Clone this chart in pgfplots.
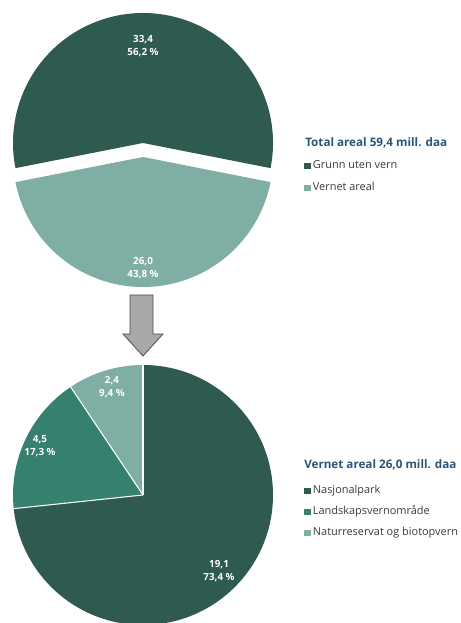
\documentclass[border=0pt]{standalone}
\usepackage{pgfplots}
\pgfplotsset{compat=1.18}
\usepackage{pgfplotstable}
\usepackage{fontspec}
\setmainfont{Open Sans}

\definecolor{grunn}{HTML}{2E5A4F}
\definecolor{landskap}{HTML}{36806F}
\definecolor{vernet}{HTML}{7FAEA4}
\definecolor{tittel}{HTML}{2B5479}
\definecolor{tekst}{HTML}{3A3A3A}
\definecolor{pil}{HTML}{A7A8AA}
\definecolor{pilkant}{HTML}{4D4D4F}

% mill. daa and share (%)
\pgfplotstableread{
value pct
33.4  56.2
26.0  43.8
}\totaltab
\pgfplotstableread{
value pct
19.1  73.4
4.5   17.3
2.4   9.4
}\verntab

\pgfplotstablegetelem{0}{value}\of\totaltab \edef\tVa{\pgfplotsretval}
\pgfplotstablegetelem{1}{value}\of\totaltab \edef\tVb{\pgfplotsretval}
\pgfplotstablegetelem{0}{pct}\of\totaltab \edef\tPa{\pgfplotsretval}
\pgfplotstablegetelem{1}{pct}\of\totaltab \edef\tPb{\pgfplotsretval}
\pgfplotstablegetelem{0}{value}\of\verntab \edef\bVa{\pgfplotsretval}
\pgfplotstablegetelem{1}{value}\of\verntab \edef\bVb{\pgfplotsretval}
\pgfplotstablegetelem{2}{value}\of\verntab \edef\bVc{\pgfplotsretval}
\pgfplotstablegetelem{0}{pct}\of\verntab \edef\bPa{\pgfplotsretval}
\pgfplotstablegetelem{1}{pct}\of\verntab \edef\bPb{\pgfplotsretval}
\pgfplotstablegetelem{2}{pct}\of\verntab \edef\bPc{\pgfplotsretval}

% angles
\pgfmathsetmacro\tAa{3.6*\tPa}
\pgfmathsetmacro\tAb{3.6*\tPb}
\pgfmathsetmacro\bSum{\bPa+\bPb+\bPc}
\pgfmathsetmacro\bAa{90-360/\bSum*\bPa}
\pgfmathsetmacro\bAb{\bAa-360/\bSum*\bPb}
\pgfmathsetmacro\tTot{\tVa+\tVb}
\pgfmathsetmacro\bTot{\bVa+\bVb+\bVc}

\newcommand\num[1]{\pgfmathprintnumber[fixed,fixed zerofill,precision=1,use comma,assume math mode=true]{#1}}
% color, cx, cy, from, to
\newcommand\slice[5]{\fill[#1] (axis cs:#2,#3) -- ++(#4:97.5pt) arc[start angle=#4,end angle=#5,radius=97.5pt] -- cycle;}
\newcommand\cut[3]{\draw[white, line width=0.8pt] (axis cs:#1,#2) -- ++(#3:97.5pt);}

\tikzset{
  lbl/.style={text=white, align=center, inner sep=0pt,
    font=\bfseries\fontsize{7.4}{9.75}\selectfont},
  ttl/.style={anchor=west, inner sep=0pt, text=tittel,
    font=\bfseries\fontsize{8.75}{10}\selectfont},
}

\begin{document}
\begin{tikzpicture}
\pgfplotsset{
  piebase/.style={hide axis, scale only axis, x=0.75pt, y=0.75pt,
    xmin=0, xmax=460, ymin=0, ymax=623, clip=false,
    legend cell align=left,
    legend image code/.code={\fill[##1, draw=none] (0pt,-2.6pt) rectangle (5.2pt,2.6pt);},
  },
  leg/.style={draw=none, fill=none, inner sep=0pt, outer sep=0pt,
    anchor=north west, font=\fontsize{8.2}{9.8}\selectfont, text=tekst,
    nodes={inner xsep=1.5pt, inner ysep=0pt, text height=6.2pt, text depth=1.8pt}},
}
% total area
\begin{axis}[piebase,
  legend style={leg, at={(0.6609,0.7421)}, row sep=8.5pt}]
\addlegendimage{fill=grunn}\addlegendentry{Grunn uten vern}
\addlegendimage{fill=vernet}\addlegendentry{Vernet areal}
\slice{grunn}{143}{480}{90-\tAa/2}{90+\tAa/2}
\slice{vernet}{143}{466}{270-\tAb/2}{270+\tAb/2}
\node[lbl] at (axis cs:143,577) {\num{\tVa}\\\num{\tPa}~\%};
\node[lbl] at (axis cs:143,355) {\num{\tVb}\\\num{\tPb}~\%};
\node[ttl] at (axis cs:305,480) {Total areal \num{\tTot} mill. daa};
\filldraw[fill=pil, draw=pilkant, line width=0.6pt, line join=miter]
  (axis cs:130,328) -- (axis cs:153,328) -- (axis cs:153,289) -- (axis cs:163,289)
  -- (axis cs:143,267) -- (axis cs:123,289) -- (axis cs:130,289) -- cycle;
\end{axis}
% protected area
\begin{axis}[piebase,
  legend style={leg, at={(0.6609,0.2204)}, row sep=7.75pt}]
\addlegendimage{fill=grunn}\addlegendentry{Nasjonalpark}
\addlegendimage{fill=landskap}\addlegendentry{Landskapsvernomr\aa de}
\addlegendimage{fill=vernet}\addlegendentry{Naturreservat og biotopvern}
\slice{grunn}{143}{128}{90}{\bAa}
\slice{landskap}{143}{128}{\bAa}{\bAb}
\slice{vernet}{143}{128}{\bAb}{-270}
\cut{143}{128}{90}
\cut{143}{128}{\bAa}
\cut{143}{128}{\bAb}
\node[lbl] at (axis cs:219,52) {\num{\bVa}\\\num{\bPa}~\%};
\node[lbl] at (axis cs:40,177) {\num{\bVb}\\\num{\bPb}~\%};
\node[lbl] at (axis cs:112,236) {\num{\bVc}\\\num{\bPc}~\%};
\node[ttl] at (axis cs:304,158) {Vernet areal \num{\bTot} mill. daa};
\end{axis}
\pgfresetboundingbox
\path[use as bounding box] (0,0) rectangle (345pt,467.25pt);
\end{tikzpicture}
\end{document}
